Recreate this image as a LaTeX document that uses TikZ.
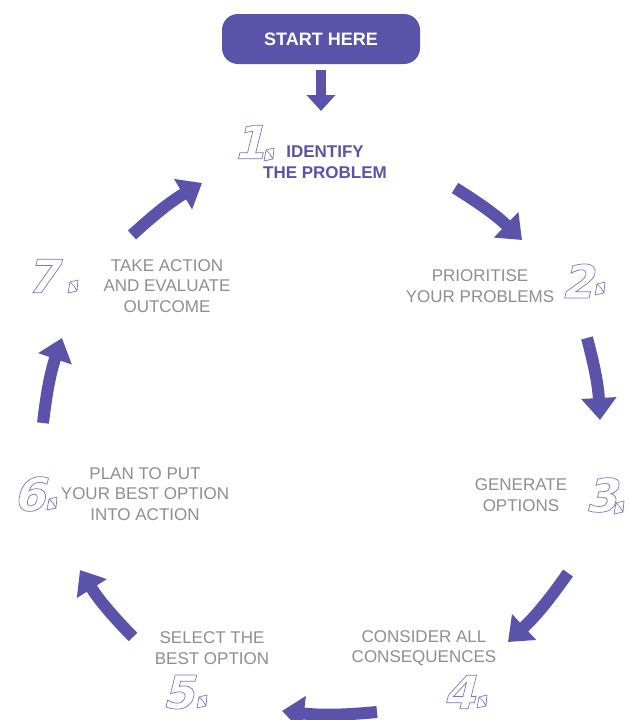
\documentclass[tikz,border=0pt]{standalone}
\usepackage{fontspec}
\setmainfont{Liberation Sans}
\newfontfamily\numfont{DejaVu Sans}[FakeSlant=0.25]
\usetikzlibrary{arrows.meta, positioning}

\definecolor{stepviolet}{HTML}{5A53A9}
\definecolor{numviolet}{HTML}{7C74C2}
\definecolor{textgray}{HTML}{8E8E8E}

% hollow (stroked) glyphs for the step numbers
\newcommand\outl[1]{\special{pdf:literal direct 1 Tr 0.7 w}#1\special{pdf:literal direct 0 Tr}}
\tikzset{pics/stop/.style={code={
    \draw[numviolet, line width=.7pt, line join=round]
        (-5,6) -- (-3,-5) -- (5,-7) -- (4,4) -- cycle (-3,-5) -- (1,-1) -- (4,4);}}}

\begin{document}
\begin{tikzpicture}[x=1pt, y=-1pt,
                    font=\fontsize{17}{20.5}\selectfont,
                    steptext/.style={align=center, text=textgray},
                    stepnum/.style={inner sep=0pt, text=numviolet,
                        font=\numfont\bfseries\fontsize{46}{46}\selectfont},
                    flow/.style={draw=stepviolet, line width=12pt,
                        -{Triangle[length=22pt, width=34pt]}},
                    arc/.style={bend left=6}]
    \useasboundingbox (0,0) rectangle (628,720);

    % start box and first step
    \node (start) [fill=stepviolet, rounded corners=16pt, minimum width=198pt,
                   minimum height=50pt, text=white, font=\bfseries\fontsize{18}{18}\selectfont]
                   at (321,39) {START HERE};
    \node (identify) [align=center, text=stepviolet, font=\bfseries\fontsize{17}{20.5}\selectfont]
                   at (325,162) {IDENTIFY\\THE PROBLEM};

    % the other steps round the loop
    \node (prioritise) [steptext] at (480,286) {PRIORITISE\\YOUR PROBLEMS};
    \node (generate)   [steptext] at (521,495) {GENERATE\\OPTIONS};
    \node (consider)   [steptext] at (424,648) {CONSIDER ALL\\CONSEQUENCES};
    \node (select)     [steptext] at (212,648) {SELECT THE\\BEST OPTION};
    \node (plan)       [steptext] at (145,494) {PLAN TO PUT\\YOUR BEST OPTION\\INTO ACTION};
    \node (act)        [steptext] at (167,286) {TAKE ACTION\\AND EVALUATE\\OUTCOME};

    % step numbers
    \node (n1) [stepnum] at (249,142) {\outl{1}};
    \node (n2) [stepnum] at (577,281) {\outl{2}};
    \node (n3) [stepnum] at (601,495) {\outl{3}};
    \node (n4) [stepnum] at (459,692) {\outl{4}};
    \node (n5) [stepnum] at (178,692) {\outl{5}};
    \node (n6) [stepnum] at (29,494)  {\outl{6}};
    \node (n7) [stepnum] at (42,276)  {\outl{7}};
    \foreach \x/\y in {269/155, 600/289, 619/508, 482/702, 202/702, 52/504, 73/287}
        \pic at (\x,\y) {stop};

    % arrow ends
    \coordinate (s0) at (321,70);  \coordinate (e0) at (321,111);
    \coordinate (s1) at (455,188); \coordinate (e1) at (522,240);
    \coordinate (s2) at (587,338); \coordinate (e2) at (600,420);
    \coordinate (s3) at (568,573); \coordinate (e3) at (508,642);
    \coordinate (s4) at (377,712); \coordinate (e4) at (282,711);
    \coordinate (s5) at (133,637); \coordinate (e5) at (80,570);
    \coordinate (s6) at (43,423);  \coordinate (e6) at (62,338);
    \coordinate (s7) at (132,235); \coordinate (e7) at (202,183);

    \draw[draw=stepviolet, line width=10pt, -{Triangle[length=16pt, width=28pt]}] (s0) -- (e0);
    \foreach \i in {1,...,7}
        \draw[flow] (s\i) to[arc] (e\i);
\end{tikzpicture}
\end{document}
